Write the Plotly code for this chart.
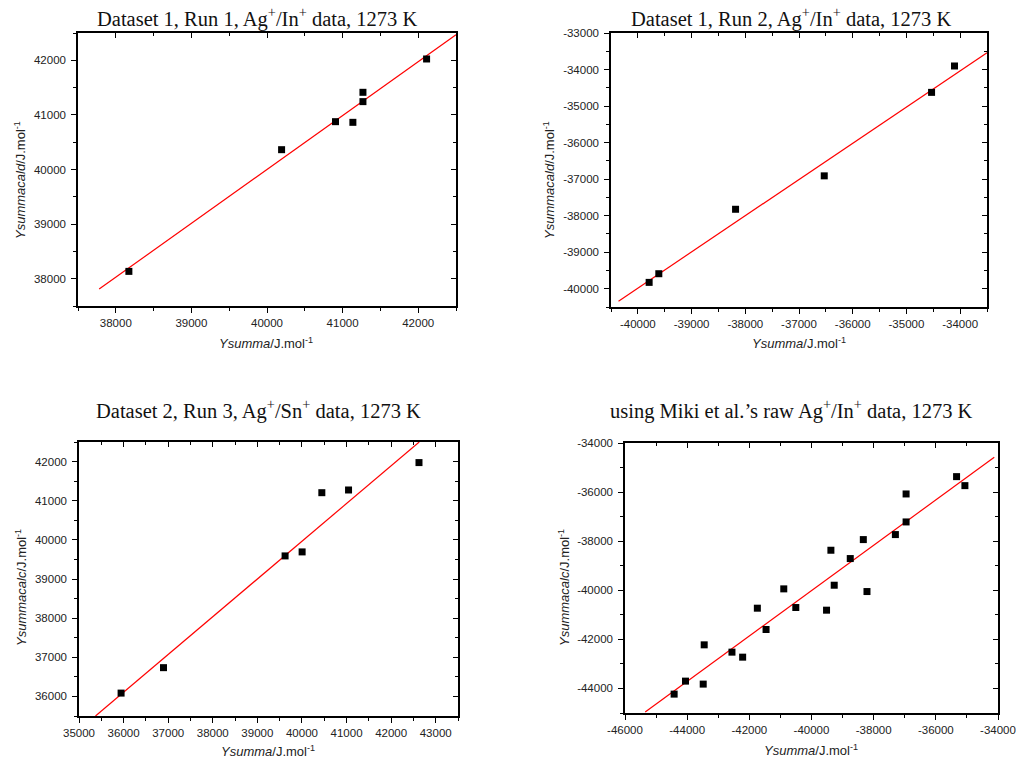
import plotly.graph_objects as go

# ---------------- data ----------------
# Panel 1: Dataset 1, Run 1
p1_x = [38173, 40193, 40906, 41136, 41269, 41269, 42111]
p1_y = [38134, 40363, 40876, 40864, 41414, 41243, 42024]
p1_fit_x = [37780, 42500]
p1_fit_y = [37810, 42470]

# Panel 2: Dataset 1, Run 2
p2_x = [-39790, -39610, -38181, -36530, -34532, -34105]
p2_y = [-39826, -39589, -37825, -36910, -34625, -33903]
p2_fit_x = [-40360, -33500]
p2_fit_y = [-40340, -33540]

# Panel 3: Dataset 2, Run 3
p3_x = [35944, 36895, 39622, 40004, 40446, 41045, 42625]
p3_y = [36085, 36735, 39590, 39692, 41205, 41274, 41974]
p3_fit_x = [35370, 42630]
p3_fit_y = [35500, 42500]

# Panel 4: Miki et al. raw data
p4_x = [-44419, -44054, -43484, -43452, -42559, -42215, -41742, -41462, -40892,
        -40505, -39516, -39376, -39269, -38753, -38333, -38215, -37301, -36957,
        -36957, -35333, -35065]
p4_y = [-44231, -43701, -43823, -42223, -42521, -42725, -40730, -41598, -39943,
        -40703, -40811, -38369, -39794, -38708, -37935, -40052, -37731, -37216,
        -36076, -35370, -35737]
p4_fit_x = [-45350, -34120]
p4_fit_y = [-44960, -34580]

titles = [
    "Dataset 1, Run 1, Ag<sup>+</sup>/In<sup>+</sup> data, 1273 K",
    "Dataset 1, Run 2, Ag<sup>+</sup>/In<sup>+</sup> data, 1273 K",
    "Dataset 2, Run 3, Ag<sup>+</sup>/Sn<sup>+</sup> data, 1273 K",
    "using Miki et al.\u2019s raw Ag<sup>+</sup>/In<sup>+</sup> data, 1273 K",
]
x_title = "<i>Ysumma</i>/J.mol<sup>-1</sup>"
y_titles = [
    "<i>Ysummacald</i>/J.mol<sup>-1</sup>",
    "<i>Ysummacald</i>/J.mol<sup>-1</sup>",
    "<i>Ysummacalc</i>/J.mol<sup>-1</sup>",
    "<i>Ysummacalc</i>/J.mol<sup>-1</sup>",
]

# tick labels
p1_xticks = [38000, 39000, 40000, 41000, 42000]
p1_yticks = [38000, 39000, 40000, 41000, 42000]
p2_xticks = [-40000, -39000, -38000, -37000, -36000, -35000, -34000]
p2_yticks = [-40000, -39000, -38000, -37000, -36000, -35000, -34000, -33000]
p3_xticks = [35000, 36000, 37000, 38000, 39000, 40000, 41000, 42000, 43000]
p3_yticks = [36000, 37000, 38000, 39000, 40000, 41000, 42000]
p4_xticks = [-46000, -44000, -42000, -40000, -38000, -36000, -34000]
p4_yticks = [-44000, -42000, -40000, -38000, -36000, -34000]

# ---------------- layout geometry (pixels of the 1016x762 page) ----------------
W, H = 1016, 762


def fx_(px):
    return px / W


def fy_(py):
    return 1 - py / H


panels = [
    dict(px=(78, 456), py=(33, 306), xr=[37500, 42500], yr=[37500, 42500],
         xt=p1_xticks, yt=p1_yticks, xminor=500, yminor=500,
         x=p1_x, y=p1_y, fx=p1_fit_x, fy=p1_fit_y,
         title_xy=(257, 17), xt_xy=(266, 343), yt_xy=(20, 180)),
    dict(px=(611, 987), py=(33, 307), xr=[-40500, -33500], yr=[-40500, -33000],
         xt=p2_xticks, yt=p2_yticks, xminor=500, yminor=500,
         x=p2_x, y=p2_y, fx=p2_fit_x, fy=p2_fit_y,
         title_xy=(791, 17), xt_xy=(799, 343), yt_xy=(549, 180)),
    dict(px=(79, 458), py=(442, 716), xr=[35000, 43500], yr=[35500, 42500],
         xt=p3_xticks, yt=p3_yticks, xminor=500, yminor=500,
         x=p3_x, y=p3_y, fx=p3_fit_x, fy=p3_fit_y,
         title_xy=(258, 409), xt_xy=(268, 751), yt_xy=(21, 588)),
    dict(px=(625, 998), py=(443, 713), xr=[-46000, -34000], yr=[-45000, -34000],
         xt=p4_xticks, yt=p4_yticks, xminor=1000, yminor=1000,
         x=p4_x, y=p4_y, fx=p4_fit_x, fy=p4_fit_y,
         title_xy=(791, 409), xt_xy=(811, 750), yt_xy=(564, 588)),
]

tick_font = dict(family="Liberation Sans, Arial, sans-serif", size=11.5, color="#222")
title_font = dict(family="Liberation Serif, Times New Roman, serif", size=20.5, color="#111")
axis_title_font = dict(family="Liberation Sans, Arial, sans-serif", size=13, color="#222")

fig = go.Figure()
layout = dict(
    width=W, height=H,
    margin=dict(l=0, r=0, t=0, b=0, pad=0, autoexpand=False),
    paper_bgcolor="white", plot_bgcolor="white",
    showlegend=False,
)
annotations = []

for i, p in enumerate(panels):
    n = i + 1
    k = i + 5
    xs = "" if n == 1 else str(n)
    xa, ya = "x" + xs, "y" + xs
    xo, yo = "x" + str(k), "y" + str(k)
    xdom = [fx_(p["px"][0]), fx_(p["px"][1])]
    ydom = [fy_(p["py"][1]), fy_(p["py"][0])]

    # fit line
    fig.add_trace(go.Scatter(x=p["fx"], y=p["fy"], mode="lines",
                             line=dict(color="#ff0000", width=1.2),
                             xaxis=xa, yaxis=ya, hoverinfo="skip"))
    # data points
    fig.add_trace(go.Scatter(x=p["x"], y=p["y"], mode="markers",
                             marker=dict(symbol="square", size=7, color="black",
                                         line=dict(width=0)),
                             xaxis=xa, yaxis=ya))
    # empty trace to carry the mirrored (top/right) axes
    fig.add_trace(go.Scatter(x=[None], y=[None], mode="markers",
                             xaxis=xo, yaxis=yo, hoverinfo="skip",
                             marker=dict(opacity=0)))

    common = dict(showgrid=False, zeroline=False, showline=True,
                  linecolor="black", linewidth=1.5, tickcolor="black",
                  tickwidth=1.2, tickfont=tick_font)
    layout["xaxis" + xs] = dict(
        domain=xdom, anchor=ya, range=p["xr"], ticks="outside", ticklen=5,
        tickvals=p["xt"], ticktext=[str(v) for v in p["xt"]],
        minor=dict(ticks="outside", dtick=p["xminor"], tick0=0, ticklen=3,
                   tickcolor="black", tickwidth=1),
        **common)
    layout["yaxis" + xs] = dict(
        domain=ydom, anchor=xa, range=p["yr"], ticks="outside", ticklen=5,
        tickvals=p["yt"], ticktext=[str(v) for v in p["yt"]],
        ticklabelstandoff=3,
        minor=dict(ticks="outside", dtick=p["yminor"], tick0=0, ticklen=3,
                   tickcolor="black", tickwidth=1),
        **common)
    # mirrored axes with inward ticks
    layout["xaxis" + str(k)] = dict(
        overlaying=xa, side="top", anchor=ya, range=p["xr"], ticks="inside",
        ticklen=5, tickvals=p["xt"], showticklabels=False,
        minor=dict(ticks="inside", dtick=p["xminor"], tick0=0, ticklen=3,
                   tickcolor="black", tickwidth=1),
        **common)
    layout["yaxis" + str(k)] = dict(
        overlaying=ya, side="right", anchor=xa, range=p["yr"], ticks="inside",
        ticklen=5, tickvals=p["yt"], showticklabels=False,
        minor=dict(ticks="inside", dtick=p["yminor"], tick0=0, ticklen=3,
                   tickcolor="black", tickwidth=1),
        **common)

    tx, ty = p["title_xy"]
    annotations.append(dict(text=titles[i], x=fx_(tx), y=fy_(ty),
                            xref="paper", yref="paper", showarrow=False,
                            xanchor="center", yanchor="middle", font=title_font))
    ax, ay = p["xt_xy"]
    annotations.append(dict(text=x_title, x=fx_(ax), y=fy_(ay),
                            xref="paper", yref="paper", showarrow=False,
                            xanchor="center", yanchor="middle", font=axis_title_font))
    bx, by = p["yt_xy"]
    annotations.append(dict(text=y_titles[i], x=fx_(bx), y=fy_(by),
                            xref="paper", yref="paper", showarrow=False,
                            textangle=-90,
                            xanchor="center", yanchor="middle", font=axis_title_font))

layout["annotations"] = annotations
fig.update_layout(**layout)
# remove the default 8px page margin so the figure fills the window exactly
fig.write_html("out.html",
               config={"displayModeBar": False},
               post_script="document.body.style.margin='0';"
                           "document.body.style.overflow='hidden';")
